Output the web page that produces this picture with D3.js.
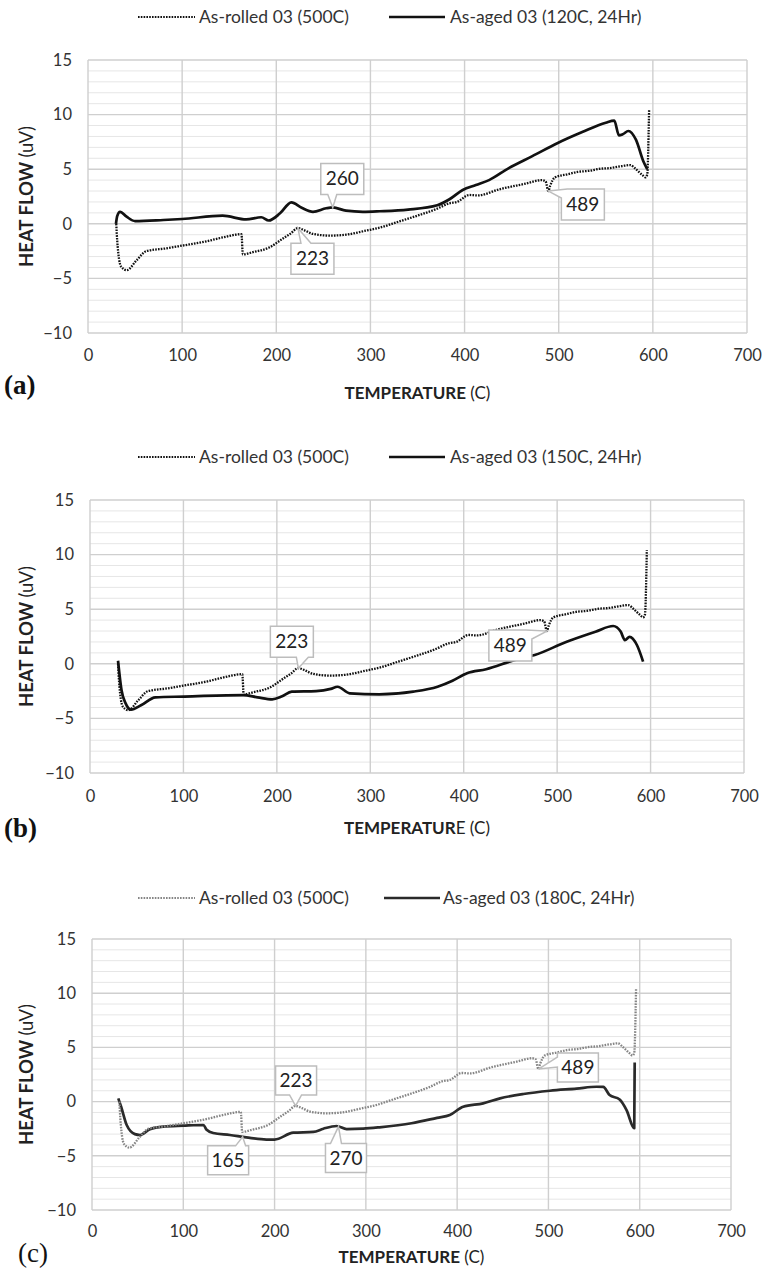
<!DOCTYPE html>
<html><head><meta charset="utf-8">
<script src="https://cdn.jsdelivr.net/npm/d3@7"></script>
<style>
html,body{margin:0;padding:0;background:#fff;}
svg{display:block;}
</style></head><body>
<svg id="fig" width="762" height="1274"></svg>
<script>
// ---- DTA traces: temperature (C) and heat flow (uV) ----
// As-rolled 03 (500C), drawn in every panel
const rolledT = [30, 31, 35, 41, 52, 62, 83, 100, 126, 143, 163, 164.5, 175, 193, 207, 215, 223, 230, 239, 257, 274, 295, 310, 330, 350, 370, 384, 392, 405, 414, 437, 465, 482, 486, 489, 491, 496, 510, 520, 532, 545, 554, 567, 576, 582, 589, 592, 594, 596];
const rolledV = [0, -1.5, -3.9, -4.25, -3.3, -2.5, -2.25, -2.0, -1.6, -1.25, -0.95, -2.8, -2.6, -2.15, -1.35, -0.9, -0.4, -0.6, -0.93, -1.08, -1.0, -0.63, -0.35, 0.2, 0.75, 1.35, 1.88, 2.0, 2.64, 2.6, 3.16, 3.68, 4.0, 3.9, 3.0, 3.5, 4.25, 4.55, 4.75, 4.85, 5.05, 5.1, 5.28, 5.38, 5.0, 4.45, 4.25, 4.5, 10.4];
// As-aged 03 (120C, 24Hr)
const aged120T = [29.7, 31, 34, 41, 50, 80, 100, 143, 168, 184, 192, 204, 216, 227, 239, 253, 260, 274, 292, 310, 340, 371, 384, 398, 412, 426, 447, 472, 499, 525, 550, 559, 564, 568, 574, 582, 590, 594];
const aged120V = [0.0, 0.7, 1.1, 0.65, 0.25, 0.35, 0.44, 0.74, 0.4, 0.6, 0.3, 0.96, 1.97, 1.47, 1.1, 1.42, 1.5, 1.2, 1.1, 1.15, 1.3, 1.7, 2.25, 3.1, 3.55, 4.0, 5.1, 6.2, 7.4, 8.4, 9.26, 9.45, 8.1, 8.2, 8.5, 7.7, 5.7, 5.0];
// As-aged 03 (150C, 24Hr)
const aged150T = [30, 33.7, 38, 44, 54.6, 70, 101, 164, 179.5, 195, 205, 216, 242, 257.6, 265, 278, 309.6, 346, 372, 388, 403.5, 424, 455, 476, 509.6, 541, 560, 568, 572.5, 577.5, 585.5, 592];
const aged150V = [0.28, -2.4, -3.6, -4.2, -3.8, -3.07, -3.0, -2.86, -3.07, -3.25, -3.0, -2.55, -2.5, -2.3, -2.1, -2.7, -2.8, -2.55, -2.1, -1.55, -0.87, -0.5, 0.35, 0.8, 2.0, 2.94, 3.46, 2.95, 2.17, 2.47, 1.7, 0.2];
// As-aged 03 (180C, 24Hr)
const aged180T = [28.8, 32, 38, 47, 52.6, 63.5, 78, 100, 122, 125.6, 132.7, 151, 169, 191, 200, 220.5, 242.5, 253.5, 268, 279, 297, 315, 350, 378, 392, 406.6, 428.5, 447, 472.5, 501.6, 530.8, 552.7, 560, 567, 578, 585.6, 594, 594.5];
const aged180V = [0.3, -0.5, -2.16, -3.0, -3.08, -2.54, -2.3, -2.22, -2.16, -2.6, -2.9, -3.08, -3.3, -3.5, -3.5, -2.87, -2.8, -2.5, -2.25, -2.54, -2.5, -2.37, -2.0, -1.5, -1.24, -0.47, -0.16, 0.3, 0.7, 1.0, 1.2, 1.37, 1.35, 0.6, 0.2, -0.78, -2.46, 3.6];

// ---- axis ticks and text ----
const xTicks = [0, 100, 200, 300, 400, 500, 600, 700];
const yTicks = [-10, -5, 0, 5, 10, 15];
const yMinor = d3.range(-10, 16, 1);
const rolledName = 'As-rolled 03 (500C)';
const agedNames = ['As-aged 03 (120C, 24Hr)', 'As-aged 03 (150C, 24Hr)', 'As-aged 03 (180C, 24Hr)'];
const panelLetters = ['(a)', '(b)', '(c)'];
// peak labels (temperature, C) per panel and the trace they point at
const peaksA = [['260', 'aged'], ['223', 'rolled'], ['489', 'rolled']];
const peaksB = [['223', 'rolled'], ['489', 'rolled']];
const peaksC = [['223', 'rolled'], ['165', 'aged'], ['270', 'aged'], ['489', 'rolled']];

// ---- layout ----
const panels = [
  { left: 88, right: 747, top: 60, bottom: 333, legY: 17, legX: [138, 195, 199, 389, 445, 450],
    tickDy: 24, titleY: 393, letterX: 4, letterY: 385, letterWeight: 'bold',
    aged: [aged120T, aged120V], rolledColor: '#111', agedColor: '#111', titleSplit: 11, peaks: peaksA,
    boxes: [
      { dx: -12, dy: -44, side: 'bottom', a: 7, b: 16, w: 43, h: 31 },
      { dx: -7, dy: 15, side: 'top', a: 10, b: 20, w: 43, h: 31 },
      { dx: 13, dy: -2, side: 'topleft', a: 6, b: 9, w: 43, h: 31 } ] },
  { left: 90, right: 744, top: 500, bottom: 773, legY: 457, legX: [138, 195, 199, 389, 445, 450],
    tickDy: 25, titleY: 828, letterX: 4, letterY: 828, letterWeight: 'bold',
    aged: [aged150T, aged150V], rolledColor: '#111', agedColor: '#111', titleSplit: 10, peaks: peaksB,
    boxes: [
      { dx: -28, dy: -42, side: 'bottom', a: 26, b: 38, w: 43, h: 31 },
      { dx: -58, dy: -1, side: 'topright', a: 6, b: 9, w: 43, h: 31 } ] },
  { left: 92, right: 731, top: 939, bottom: 1210, legY: 898, legX: [138, 195, 199, 384, 440, 443],
    tickDy: 23, titleY: 1257, letterX: 18, letterY: 1253, letterWeight: 'normal',
    aged: [aged180T, aged180V], rolledColor: '#858585', agedColor: '#2a2a2a', titleSplit: 11, peaks: peaksC,
    boxes: [
      { dx: -20, dy: -40, side: 'bottom', a: 14, b: 26, w: 41, h: 29 },
      { dx: -35, dy: 9, side: 'top', a: 28, b: 38, w: 41, h: 29 },
      { dx: -13, dy: 17, side: 'top', a: 5, b: 16, w: 41, h: 29 },
      { dx: 19, dy: -16, side: 'left', a: 4, b: 14, w: 41, h: 29 } ] }
];

const FONT = "Lato, 'Open Sans', sans-serif";
const svg = d3.select('#fig');

function zipTV(T, V) { return T.map((t, i) => ({ t, v: V[i] })); }

// linear interpolation of a trace at temperature t
function valueAt(T, V, t) {
  const i = d3.bisectLeft(T, t);
  if (i <= 0) return V[0];
  if (i >= T.length) return V[V.length - 1];
  if (T[i] === t) return V[i];
  const f = (t - T[i - 1]) / (T[i] - T[i - 1]);
  return V[i - 1] + f * (V[i] - V[i - 1]);
}

// rectangle with a wedge pointing at (tx, ty)
function calloutPath(x0, y0, w, h, tx, ty, side, a, b) {
  const x1 = x0 + w, y1 = y0 + h;
  let p;
  switch (side) {
    case 'top': p = [[x0, y0], [x0 + a, y0], [tx, ty], [x0 + b, y0], [x1, y0], [x1, y1], [x0, y1]]; break;
    case 'bottom': p = [[x0, y0], [x1, y0], [x1, y1], [x0 + b, y1], [tx, ty], [x0 + a, y1], [x0, y1]]; break;
    case 'left': p = [[x0, y0], [x1, y0], [x1, y1], [x0, y1], [x0, y0 + b], [tx, ty], [x0, y0 + a]]; break;
    case 'topleft': p = [[x0 + a, y0], [x1, y0], [x1, y1], [x0, y1], [x0, y0 + b], [tx, ty]]; break;
    case 'topright': p = [[x0, y0], [x1 - a, y0], [tx, ty], [x1, y0 + b], [x1, y1], [x0, y1]]; break;
  }
  return 'M' + p.map(q => q.join(',')).join('L') + 'Z';
}

panels.forEach((P, k) => {
  const g = svg.append('g');
  const x = d3.scaleLinear().domain([0, 700]).range([P.left, P.right]);
  const y = d3.scaleLinear().domain([-10, 15]).range([P.bottom, P.top]);

  // minor horizontal grid
  g.append('g').selectAll('line').data(yMinor.filter(v => v % 5 !== 0)).join('line')
    .attr('x1', P.left).attr('x2', P.right).attr('y1', d => y(d)).attr('y2', d => y(d))
    .attr('stroke', '#e6e6e6').attr('stroke-width', 1);
  // major horizontal grid
  g.append('g').selectAll('line').data(yTicks).join('line')
    .attr('x1', P.left).attr('x2', P.right).attr('y1', d => y(d)).attr('y2', d => y(d))
    .attr('stroke', '#cfcfcf').attr('stroke-width', 1.4);
  // vertical grid
  g.append('g').selectAll('line').data(xTicks).join('line')
    .attr('x1', d => x(d)).attr('x2', d => x(d)).attr('y1', P.top).attr('y2', P.bottom)
    .attr('stroke', '#cfcfcf').attr('stroke-width', 1.4);

  // axes (labels only; the grid carries the lines)
  const xa = g.append('g').attr('transform', `translate(0,${P.bottom})`)
    .call(d3.axisBottom(x).tickValues(xTicks).tickSize(0).tickPadding(P.tickDy - 8));
  const ya = g.append('g').attr('transform', `translate(${P.left},0)`)
    .call(d3.axisLeft(y).tickValues(yTicks).tickSize(0).tickPadding(16));
  [xa, ya].forEach(a => {
    a.select('.domain').remove();
    a.selectAll('text').attr('font-family', FONT).attr('font-size', 16.5).attr('fill', '#333');
  });

  // traces
  const line = d3.line().curve(d3.curveMonotoneX).x(d => x(d.t)).y(d => y(d.v));
  g.append('path').datum(zipTV(P.aged[0], P.aged[1])).attr('d', line)
    .attr('fill', 'none').attr('stroke', P.agedColor).attr('stroke-width', 2.7)
    .attr('stroke-linejoin', 'round');
  g.append('path').datum(zipTV(rolledT, rolledV)).attr('d', line)
    .attr('fill', 'none').attr('stroke', P.rolledColor).attr('stroke-width', 2.3)
    .attr('stroke-dasharray', '1.6,1.2');

  // peak callouts
  P.peaks.forEach(([label, which], i) => {
    const B = P.boxes[i];
    const t = +label;
    const v = which === 'aged' ? valueAt(P.aged[0], P.aged[1], t) : valueAt(rolledT, rolledV, t);
    const tx = x(t), ty = y(v);
    const x0 = tx + B.dx, y0 = ty + B.dy;
    g.append('path').attr('d', calloutPath(x0, y0, B.w, B.h, tx, ty, B.side, B.a, B.b))
      .attr('fill', '#fff').attr('stroke', '#bdbdbd').attr('stroke-width', 1.5);
    g.append('text').attr('x', x0 + B.w / 2).attr('y', y0 + B.h / 2 + 6.5)
      .attr('text-anchor', 'middle').attr('font-family', FONT).attr('font-size', 19)
      .attr('fill', '#222').text(label);
  });

  // legend
  const L = P.legX;
  g.append('line').attr('x1', L[0]).attr('x2', L[1]).attr('y1', P.legY).attr('y2', P.legY)
    .attr('stroke', P.rolledColor).attr('stroke-width', 2).attr('stroke-dasharray', '1.6,1.2');
  g.append('text').attr('x', L[2]).attr('y', P.legY + 6).attr('font-family', FONT)
    .attr('font-size', 17.5).attr('fill', '#333').text(rolledName);
  g.append('line').attr('x1', L[3]).attr('x2', L[4]).attr('y1', P.legY).attr('y2', P.legY)
    .attr('stroke', P.agedColor).attr('stroke-width', 2.6);
  g.append('text').attr('x', L[5]).attr('y', P.legY + 6).attr('font-family', FONT)
    .attr('font-size', 17.5).attr('fill', '#333').text(agedNames[k]);

  // axis titles
  const yt = g.append('text').attr('transform', `translate(33,${(P.top + P.bottom) / 2}) rotate(-90)`)
    .attr('text-anchor', 'middle').attr('font-family', FONT).attr('font-size', 18.5).attr('fill', '#222');
  yt.append('tspan').attr('font-weight', 'bold').text('HEAT FLOW ');
  yt.append('tspan').text('(uV)');
  const title = 'TEMPERATURE (C)';
  const xt = g.append('text').attr('x', (P.left + P.right) / 2).attr('y', P.titleY + 6)
    .attr('text-anchor', 'middle').attr('font-family', FONT).attr('font-size', 17).attr('fill', '#222');
  xt.append('tspan').attr('font-weight', 'bold').text(title.slice(0, P.titleSplit));
  xt.append('tspan').text(title.slice(P.titleSplit));

  // panel letter
  g.append('text').attr('x', P.letterX).attr('y', P.letterY + 9)
    .attr('font-family', "'Liberation Serif', 'Times New Roman', serif")
    .attr('font-weight', P.letterWeight).attr('font-size', 27).attr('fill', '#111')
    .text(panelLetters[k]);
});
</script>
</body></html>
